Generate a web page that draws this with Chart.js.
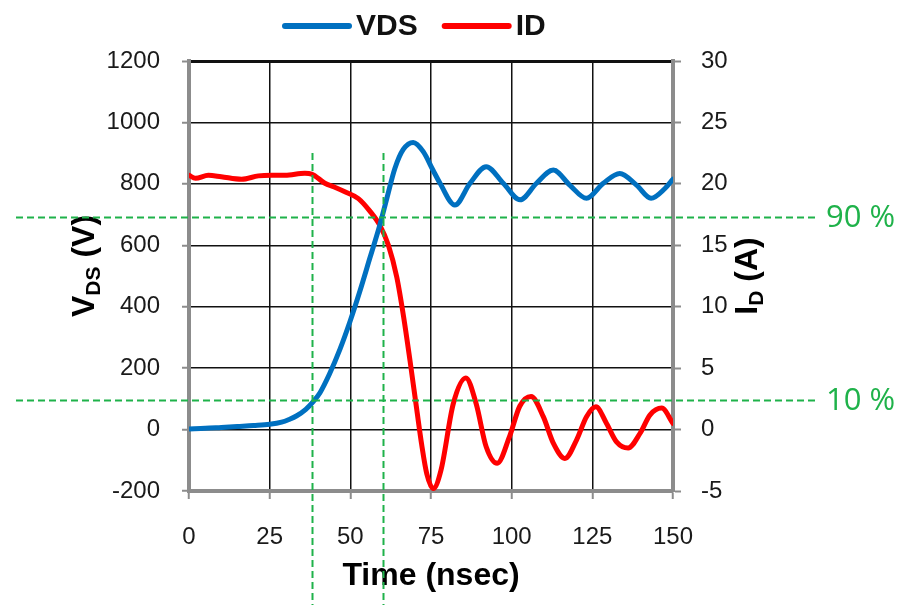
<!DOCTYPE html>
<html>
<head>
<meta charset="utf-8">
<title>VDS / ID switching waveform</title>
<script src="https://cdn.jsdelivr.net/npm/chart.js@4.4.1/dist/chart.umd.min.js"></script>
<style>
  html, body { margin: 0; padding: 0; background: #ffffff; }
  #wrap { width: 902px; height: 605px; position: relative; }
</style>
</head>
<body>
<div id="wrap"><canvas id="c" width="902" height="605"></canvas></div>
<script>
// Drain-source voltage (V) versus time (ns)
const vdsTime = [0, 5, 10, 15, 20, 25, 28.7, 31, 33.4, 36.2, 38.5, 40.6, 43.5, 46.8, 49.9, 53, 56.1, 59.2, 61.3, 63.8, 66.4, 69.5, 72.6, 75.6, 77.8, 82.4, 87.1, 92.1, 97.4, 102.6, 107.7, 112.9, 118, 123.2, 128.4, 133.5, 138.7, 143.2, 147.5, 150];
const vdsValues = [2, 4, 7, 10, 13, 17, 24, 33, 45, 66, 91, 120, 180, 262, 352, 452, 560, 668, 752, 850, 912, 935, 905, 845, 802, 731, 802, 856, 802, 748, 802, 845, 796, 753, 802, 834, 796, 753, 785, 815];

// Drain current (A) versus time (ns)
const idTime = [0, 2, 6, 10, 16.3, 21.5, 25.6, 29.8, 35.9, 38, 42.1, 45, 48.3, 52.5, 56, 59.2, 61.8, 64.4, 66.5, 68.5, 70.6, 72.1, 73.7, 75.7, 78.1, 81.9, 85.8, 89, 92.1, 95.5, 99.3, 102.5, 106, 109.8, 112.9, 116.5, 120.1, 123.2, 126.1, 129.4, 132.5, 136.1, 139.8, 142.9, 146.5, 150];
const idValues = [20.7, 20.45, 20.7, 20.58, 20.37, 20.65, 20.7, 20.7, 20.86, 20.8, 20.05, 19.75, 19.36, 18.8, 17.8, 16.6, 15.0, 12.4, 9.2, 5.6, 1.6, -1.2, -3.6, -4.8, -3.3, 2.1, 4.2, 2.1, -1.4, -2.75, -0.6, 1.9, 2.7, 1.05, -1.1, -2.35, -0.85, 1.05, 1.85, 0.5, -1.0, -1.5, -0.3, 1.2, 1.75, 0.5];

const seriesNames = ['VDS', 'ID'];
const seriesColors = ['#0070C0', '#FF0000'];

// Axis ranges and tick steps
const timeRange = [0, 150, 25];
const voltRange = [-200, 1200, 200];
const ampRange = [-5, 30, 5];

// Switching-time markers (ns) and 90 % / 10 % levels (V)
const markerTimes = [38.1, 60.0];
const levelVolts = [693, 96];
const levelLabels = ['90 %', '10 %'];

const FONT = '"Liberation Sans", Arial, Helvetica, sans-serif';
const AXIS_GREY = '#8c8c8c';
const GREEN = '#1fb24a';

const toPoints = (xs, ys) => xs.map((t, i) => ({ x: t, y: ys[i] }));
const plainNumber = (v) => String(v);

// Draws the legend, the rotated y-axis titles (with subscripts) and the dashed level/marker lines
const overlay = {
  id: 'overlay',
  afterDraw(chart) {
    const ctx = chart.ctx;
    const { x, y } = chart.scales;

    // Legend
    ctx.save();
    ctx.font = 'bold 30px ' + FONT;
    ctx.textBaseline = 'middle';
    ctx.textAlign = 'left';
    let lx = 282;
    const ly = 26;
    chart.data.datasets.forEach((ds) => {
      ctx.strokeStyle = ds.borderColor;
      ctx.lineWidth = 6;
      ctx.lineCap = 'round';
      ctx.beginPath();
      ctx.moveTo(lx + 3, ly);
      ctx.lineTo(lx + 67, ly);
      ctx.stroke();
      ctx.fillStyle = '#111';
      ctx.fillText(ds.label, lx + 74, ly + 1);
      lx += 74 + ctx.measureText(ds.label).width + 24;
    });
    ctx.restore();

    // Rotated axis titles
    const drawTitle = (baseX, centerY, parts) => {
      ctx.save();
      ctx.fillStyle = '#000';
      ctx.textBaseline = 'alphabetic';
      ctx.textAlign = 'left';
      let total = 0;
      parts.forEach(p => { ctx.font = 'bold ' + p.size + 'px ' + FONT; p.w = ctx.measureText(p.text).width; total += p.w; });
      ctx.translate(baseX, centerY);
      ctx.rotate(-Math.PI / 2);
      let px = -total / 2;
      parts.forEach(p => {
        ctx.font = 'bold ' + p.size + 'px ' + FONT;
        ctx.fillText(p.text, px, p.dy);
        px += p.w;
      });
      ctx.restore();
    };
    drawTitle(94, 266, [
      { text: 'V', size: 32, dy: 0 },
      { text: 'DS', size: 21, dy: 6 },
      { text: ' (V)', size: 32, dy: 0 }
    ]);
    drawTitle(757, 276, [
      { text: 'I', size: 32, dy: 0 },
      { text: 'D', size: 21, dy: 6 },
      { text: ' (A)', size: 32, dy: 0 }
    ]);

    // Dashed 90 % / 10 % levels and switching markers
    ctx.save();
    ctx.strokeStyle = GREEN;
    ctx.lineWidth = 2;
    ctx.setLineDash([7, 4]);
    levelVolts.forEach((v) => {
      const py = Math.round(y.getPixelForValue(v)) + 0.5;
      ctx.beginPath();
      ctx.moveTo(16, py);
      ctx.lineTo(817, py);
      ctx.stroke();
    });
    markerTimes.forEach((t) => {
      const px = Math.round(x.getPixelForValue(t)) + 0.5;
      ctx.beginPath();
      ctx.moveTo(px, 153);
      ctx.lineTo(px, 605);
      ctx.stroke();
    });
    ctx.setLineDash([]);
    ctx.fillStyle = GREEN;
    ctx.font = '31px "Open Sans", "Noto Sans", sans-serif';
    ctx.textBaseline = 'middle';
    ctx.textAlign = 'left';
    levelVolts.forEach((v, i) => {
      ctx.fillText(levelLabels[i], 826, y.getPixelForValue(v) + 1);
    });
    ctx.restore();
  }
};

new Chart(document.getElementById('c'), {
  type: 'line',
  data: {
    datasets: [
      {
        label: seriesNames[0],
        data: toPoints(vdsTime, vdsValues),
        yAxisID: 'y',
        borderColor: seriesColors[0],
        backgroundColor: seriesColors[0],
        borderWidth: 5,
        pointRadius: 0,
        cubicInterpolationMode: 'monotone',
        borderCapStyle: 'round',
        borderJoinStyle: 'round',
        fill: false
      },
      {
        label: seriesNames[1],
        data: toPoints(idTime, idValues),
        yAxisID: 'y1',
        borderColor: seriesColors[1],
        backgroundColor: seriesColors[1],
        borderWidth: 5,
        pointRadius: 0,
        cubicInterpolationMode: 'monotone',
        borderCapStyle: 'round',
        borderJoinStyle: 'round',
        fill: false
      }
    ]
  },
  options: {
    responsive: false,
    maintainAspectRatio: false,
    animation: false,
    devicePixelRatio: 1,
    layout: { padding: { top: 61, left: 0, right: 0, bottom: 0 } },
    plugins: {
      legend: { display: false },
      tooltip: { enabled: false }
    },
    scales: {
      x: {
        type: 'linear',
        position: 'bottom',
        min: timeRange[0],
        max: timeRange[1],
        ticks: { stepSize: timeRange[2], color: '#1a1a1a', font: { family: FONT, size: 24 }, padding: 24, maxRotation: 0, callback: plainNumber },
        grid: { color: '#111', lineWidth: 1.5, tickColor: AXIS_GREY, tickLength: 8, tickWidth: 2 },
        border: { color: AXIS_GREY, width: 4 },
        title: {
          display: true,
          text: 'Time (nsec)',
          color: '#000',
          font: { family: FONT, size: 32, weight: 'bold' },
          padding: { top: 0, bottom: 10 }
        },
        afterFit(s) { s.height = 114; }
      },
      y: {
        type: 'linear',
        position: 'left',
        min: voltRange[0],
        max: voltRange[1],
        ticks: { stepSize: voltRange[2], color: '#1a1a1a', font: { family: FONT, size: 24 }, padding: 22, callback: plainNumber },
        grid: {
          color: '#111',
          lineWidth: (c) => (c.tick && c.tick.value === voltRange[1] ? 3 : 1.5),
          tickColor: AXIS_GREY, tickLength: 7, tickWidth: 2
        },
        border: { color: AXIS_GREY, width: 4 },
        afterFit(s) { s.width = 189; }
      },
      y1: {
        type: 'linear',
        position: 'right',
        min: ampRange[0],
        max: ampRange[1],
        ticks: { stepSize: ampRange[2], color: '#1a1a1a', font: { family: FONT, size: 24 }, padding: 20, callback: plainNumber },
        grid: { drawOnChartArea: false, tickColor: AXIS_GREY, tickLength: 8, tickWidth: 2 },
        border: { color: AXIS_GREY, width: 4 },
        afterFit(s) { s.width = 229; }
      }
    }
  },
  plugins: [overlay]
});
</script>
</body>
</html>
